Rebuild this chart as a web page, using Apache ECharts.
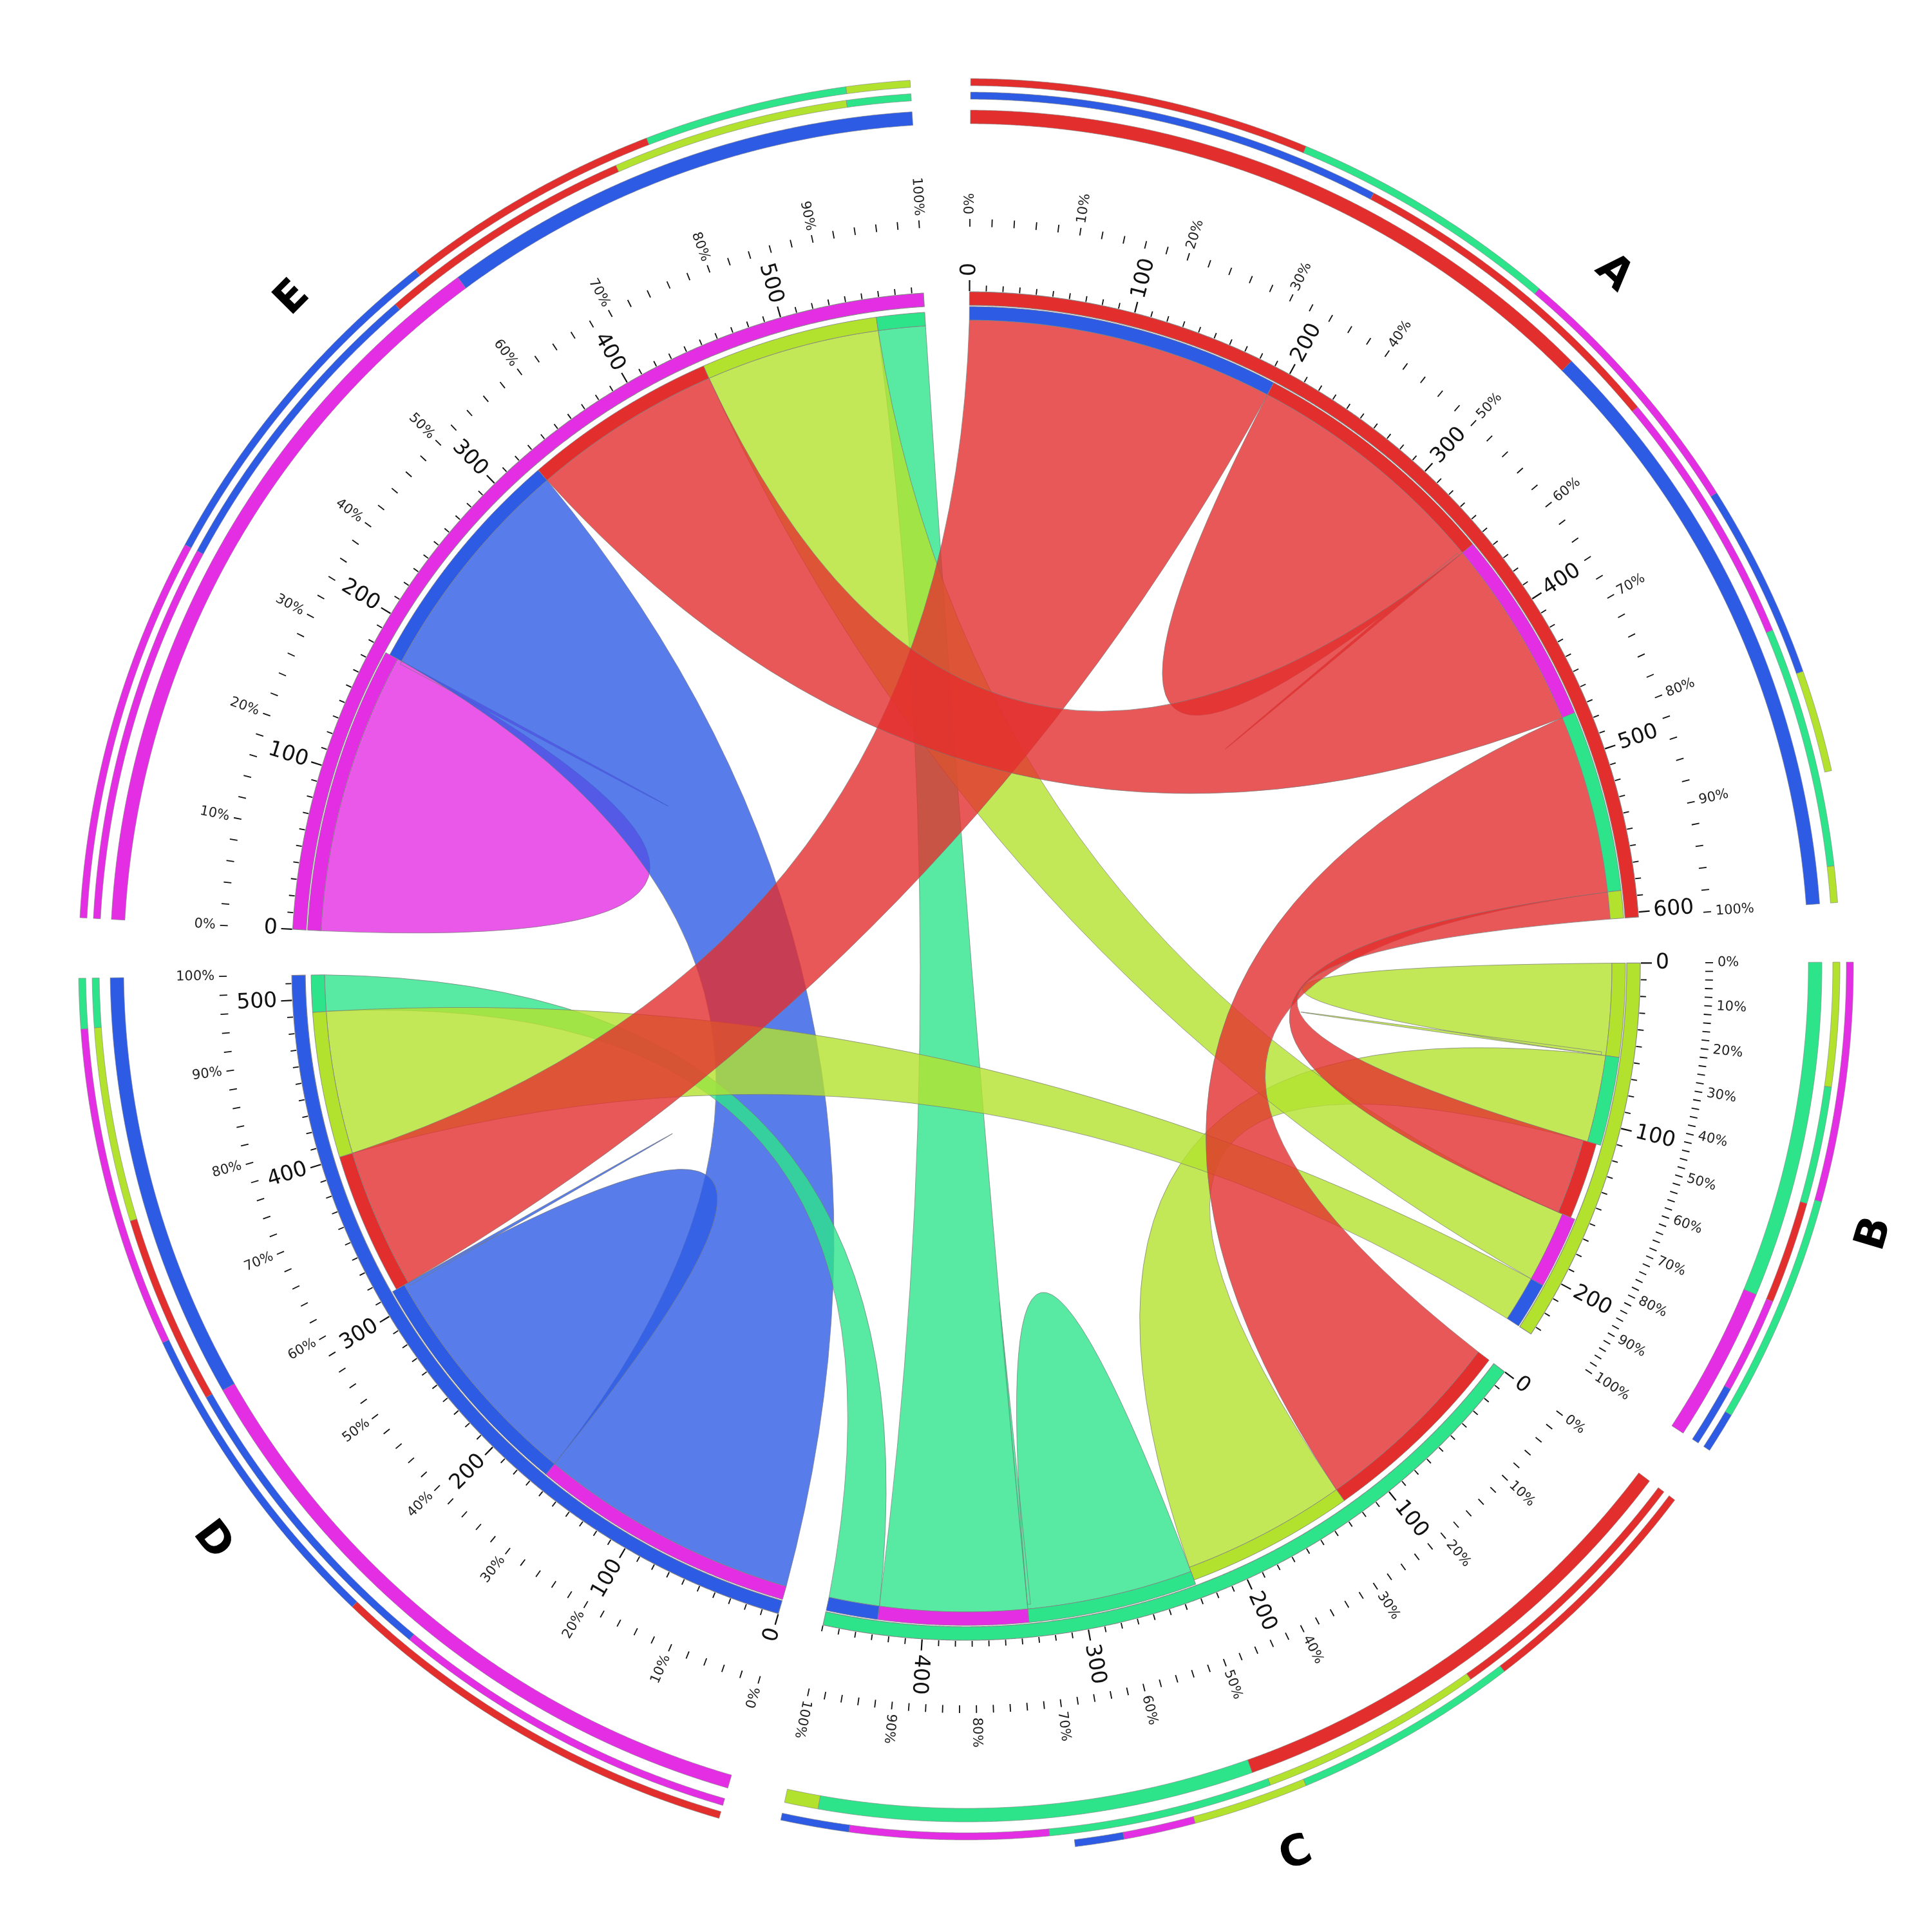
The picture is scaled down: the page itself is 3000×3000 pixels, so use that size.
<!DOCTYPE html>
<html><head><meta charset="utf-8">
<script src="https://cdn.jsdelivr.net/npm/echarts@6/dist/echarts.min.js"></script>
<style>html,body{margin:0;padding:0;background:#fff}#chart{width:3000px;height:3000px}</style>
</head><body><div id="chart"></div>
<script>
// ---------------- DATA ----------------
const segmentNames  = ['A', 'B', 'C', 'D', 'E'];
const segmentSizes  = [603, 235, 460, 515, 587];
const segmentColors = ['#e32e2e', '#b3e22e', '#2ee48b', '#2e5be3', '#e32ee3'];

// ribbons: source segment interval -> target segment interval
const ribbonFrom      = ['A', 'A', 'A', 'A', 'A', 'B', 'B', 'B', 'B', 'C', 'C', 'C', 'D', 'D', 'E'];
const ribbonFromStart = [  0, 194, 352, 473, 586,   0,  58, 161, 206, 230, 335, 428,   0, 165,   0];
const ribbonFromEnd   = [194, 352, 473, 586, 603,  58, 113, 206, 235, 335, 428, 460, 165, 312, 178];
const ribbonTo        = ['D', 'A', 'E', 'C', 'B', 'B', 'C', 'E', 'D', 'C', 'E', 'D', 'E', 'D', 'E'];
const ribbonToStart   = [312, 350, 325,   0, 113,  56, 125, 446, 401, 333, 557, 492, 178, 310, 176];
const ribbonToEnd     = [401, 352, 446, 125, 161,  58, 230, 557, 492, 335, 587, 515, 325, 312, 178];

// outer rings (cumulative percent of each segment)
const ringInnerA = [['A', 52.3], ['D', 100]];
const ringInnerB = [['C', 68.5], ['E', 100]];
const ringInnerC = [['A', 51.3], ['C', 96.5], ['B', 100]];
const ringInnerD = [['E', 60.4], ['D', 100]];
const ringInnerE = [['E', 60.6], ['D', 100]];
const ringOuterA = [['A', 26], ['C', 46.7], ['E', 67.2], ['D', 82.2], ['B', 90]];
const ringOuterB = [['E', 47], ['C', 92], ['D', 100]];
const ringOuterC = [['A', 24], ['C', 46.7], ['B', 58.3], ['E', 65.5], ['D', 70.4]];
const ringOuterD = [['A', 37.8], ['D', 66.7], ['E', 95.5], ['C', 100]];
const ringOuterE = [['E', 30.3], ['D', 58.3], ['A', 79], ['C', 95], ['B', 100]];
const ringInner = [ringInnerA, ringInnerB, ringInnerC, ringInnerD, ringInnerE];
const ringOuter = [ringOuterA, ringOuterB, ringOuterC, ringOuterD, ringOuterE];

const tickMinor = 10, tickMajor = 100;         // value ticks
const pctMinor = 2, pctMajor = 10;             // percent ticks
const flippedSegments = ['D', 'E'];

// ---------------- LAYOUT ----------------
const TOTAL_UNITS = 2538;
const sumSizes = segmentSizes.reduce((a, b) => a + b, 0);
const gapUnits = (TOTAL_UNITS - sumSizes) / segmentNames.length;
const segOffset = {};
(function () { let acc = 0; segmentNames.forEach((n, i) => { segOffset[n] = acc; acc += segmentSizes[i] + gapUnits; }); })();
const sIdx = n => segmentNames.indexOf(n);
const colorOf = n => segmentColors[sIdx(n)];
const U = (seg, v) => segOffset[seg] + v;

const R = {
  ideoIn: 1026, ideoOut: 1047,
  srcIn: 1003, srcOut: 1024,
  tgtIn: 996, tgtOut: 1017,
  tickIn: 1048, tickMinorOut: 1057, tickMajorOut: 1065, numLabel: 1071,
  pctIn: 1148, pctOut: 1160, pctLabel: 1167,
  ring1: [1308, 1329], ring2: [1346, 1357], ring3: [1367, 1378],
  segLabel: 1472
};
const PURITY = 0.95;

function hexA(hex, a) {
  const v = parseInt(hex.slice(1), 16);
  return 'rgba(' + (v >> 16 & 255) + ',' + (v >> 8 & 255) + ',' + (v & 255) + ',' + a + ')';
}
function arcPts(api, r, u0, u1) {
  const n = Math.max(2, Math.ceil(Math.abs(u1 - u0) / 0.8) + 1);
  const pts = [];
  for (let i = 0; i < n; i++) pts.push(api.coord([r, u0 + (u1 - u0) * i / (n - 1)]));
  return pts;
}
function band(api, r0, r1, u0, u1, fill, stroke, lw) {
  return { type: 'polygon', shape: { points: arcPts(api, r1, u0, u1).concat(arcPts(api, r0, u1, u0)) },
    style: { fill: fill, stroke: stroke || 'rgba(130,130,130,0.9)', lineWidth: lw == null ? 1 : lw } };
}
function f(p) { return p[0].toFixed(2) + ' ' + p[1].toFixed(2); }
function ctrl(c, p, q) {
  const mx = (p[0] + q[0]) / 2, my = (p[1] + q[1]) / 2;
  return [c[0] * PURITY + mx * (1 - PURITY), c[1] * PURITY + my * (1 - PURITY)];
}
function ribbonPath(api, i) {
  const s = ribbonFrom[i], t = ribbonTo[i];
  const c = api.coord([0, 0]);
  const sp = arcPts(api, R.srcIn, U(s, ribbonFromStart[i]), U(s, ribbonFromEnd[i]));
  const tp = arcPts(api, R.tgtIn, U(t, ribbonToStart[i]), U(t, ribbonToEnd[i]));
  let d = 'M' + f(sp[0]);
  for (let k = 1; k < sp.length; k++) d += 'L' + f(sp[k]);
  d += 'Q' + f(ctrl(c, sp[sp.length - 1], tp[0])) + ' ' + f(tp[0]);
  for (let k = 1; k < tp.length; k++) d += 'L' + f(tp[k]);
  d += 'Q' + f(ctrl(c, tp[tp.length - 1], sp[0])) + ' ' + f(sp[0]) + 'Z';
  return d;
}
function capsOf(seg) {
  const list = [];
  ribbonFrom.forEach((s, i) => {
    if (s === seg) list.push({ a: ribbonFromStart[i], b: ribbonFromEnd[i], color: colorOf(ribbonTo[i]), inc: false });
    if (ribbonTo[i] === seg && s !== seg) list.push({ a: ribbonToStart[i], b: ribbonToEnd[i], color: colorOf(s), inc: true });
  });
  return list.sort((x, y) => x.a - y.a);
}
function radialText(api, r, u, text, fontSize, flip, color) {
  const p = api.coord([r, u]), c = api.coord([0, 0]);
  const phi = Math.atan2(-(p[1] - c[1]), p[0] - c[0]);
  return { type: 'text', x: p[0], y: p[1], rotation: flip ? phi + Math.PI : phi,
    style: { text: text, fill: color || '#111', fontSize: fontSize, fontFamily: 'DejaVu Sans',
      align: flip ? 'right' : 'left', verticalAlign: 'middle', textAlign: flip ? 'right' : 'left', textVerticalAlign: 'middle' } };
}

// draw order: later sources underneath
const ribbonOrder = ribbonFrom.map((s, i) => i).sort((a, b) => sIdx(ribbonFrom[b]) - sIdx(ribbonFrom[a]));

function renderRibbon(params, api) {
  const i = ribbonOrder[params.dataIndex];
  return { type: 'path', shape: { pathData: ribbonPath(api, i) },
    style: { fill: hexA(colorOf(ribbonFrom[i]), 0.8), stroke: 'rgba(120,120,120,0.7)', lineWidth: 1 } };
}
function renderSegment(params, api) {
  const k = params.dataIndex, seg = segmentNames[k], size = segmentSizes[k], col = segmentColors[k];
  const flip = flippedSegments.indexOf(seg) >= 0;
  const ch = [];
  ch.push(band(api, R.ideoIn, R.ideoOut, U(seg, 0), U(seg, size), col, 'rgba(130,130,130,0.9)', 1.2));
  capsOf(seg).forEach(cp => {
    if (cp.inc) ch.push(band(api, R.tgtIn, R.tgtOut, U(seg, cp.a), U(seg, cp.b), cp.color));
    else ch.push(band(api, R.srcIn, R.srcOut, U(seg, cp.a), U(seg, cp.b), cp.color));
  });
  for (let v = 0; v <= size + 0.001; v += tickMinor) {
    const major = v % tickMajor === 0;
    const p0 = api.coord([R.tickIn, U(seg, v)]), p1 = api.coord([major ? R.tickMajorOut : R.tickMinorOut, U(seg, v)]);
    ch.push({ type: 'line', shape: { x1: p0[0], y1: p0[1], x2: p1[0], y2: p1[1] }, style: { stroke: '#111', lineWidth: major ? 2.2 : 1.8 } });
    if (major) ch.push(radialText(api, R.numLabel, U(seg, v), String(v), 33, flip));
  }
  for (let p = 0; p <= 100 + 0.001; p += pctMinor) {
    const u = U(seg, size * p / 100);
    const p0 = api.coord([R.pctIn, u]), p1 = api.coord([R.pctOut, u]);
    ch.push({ type: 'line', shape: { x1: p0[0], y1: p0[1], x2: p1[0], y2: p1[1] }, style: { stroke: '#111', lineWidth: 1.8 } });
    if (p % pctMajor === 0) ch.push(radialText(api, R.pctLabel, u, p + '%', 21, flip, '#222'));
  }
  const rings = [[ringInner[k], R.ring1], [capsOf(seg).map(cp => [null, cp.b / size * 100, cp.color]), R.ring2], [ringOuter[k], R.ring3]];
  rings.forEach(([list, rr]) => {
    let prev = 0;
    list.forEach(item => {
      const color = item[2] || colorOf(item[0]);
      ch.push(band(api, rr[0], rr[1], U(seg, size * prev / 100), U(seg, size * item[1] / 100), color, 'rgba(130,130,130,0.8)', 0.8));
      prev = item[1];
    });
  });
  const pm = api.coord([R.segLabel, U(seg, size / 2)]), c = api.coord([0, 0]);
  const phi = Math.atan2(-(pm[1] - c[1]), pm[0] - c[0]);
  const bottom = pm[1] > c[1];
  ch.push({ type: 'text', x: pm[0], y: pm[1], rotation: bottom ? phi + Math.PI / 2 : phi - Math.PI / 2,
    style: { text: seg, fill: '#000', fontSize: 66, fontWeight: 'bold', fontFamily: 'DejaVu Sans',
      align: 'center', verticalAlign: 'middle', textAlign: 'center', textVerticalAlign: 'middle' } });
  return { type: 'group', children: ch };
}

const chart = echarts.init(document.getElementById('chart'), null, { renderer: 'canvas', width: 3000, height: 3000 });
chart.setOption({
  backgroundColor: '#ffffff',
  animation: false,
  polar: { center: ['50%', '50%'], radius: [0, 1500] },
  angleAxis: { type: 'value', min: 0, max: TOTAL_UNITS, startAngle: 89.7, clockwise: true,
    axisLine: { show: false }, axisTick: { show: false }, axisLabel: { show: false }, splitLine: { show: false } },
  radiusAxis: { type: 'value', min: 0, max: 1500,
    axisLine: { show: false }, axisTick: { show: false }, axisLabel: { show: false }, splitLine: { show: false } },
  series: [
    { type: 'custom', coordinateSystem: 'polar', silent: true, clip: false, z: 1,
      data: ribbonOrder.map(() => [0, 0]), renderItem: renderRibbon },
    { type: 'custom', coordinateSystem: 'polar', silent: true, clip: false, z: 2,
      data: segmentNames.map(() => [0, 0]), renderItem: renderSegment }
  ]
});
</script></body></html>
